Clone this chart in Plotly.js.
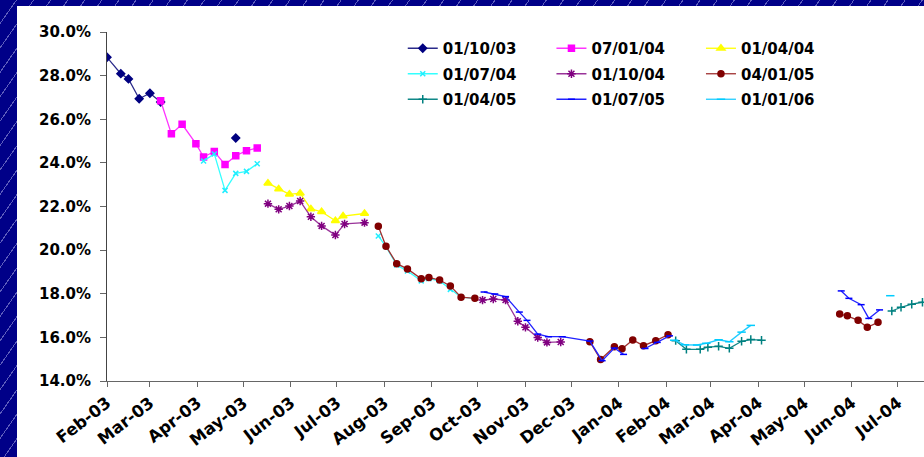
<!DOCTYPE html>
<html>
<head>
<meta charset="utf-8">
<script src="https://cdn.plot.ly/plotly-3.0.1.min.js"></script>
<style>
  html, body { margin: 0; padding: 0; width: 924px; height: 457px; overflow: hidden; }
  body {
    background-color: #000088;
    background-image: repeating-linear-gradient(125deg,
      rgba(0,0,0,0) 0px, rgba(0,0,0,0) 13px,
      rgba(170,170,230,0.55) 13px, rgba(170,170,230,0.55) 14px);
  }
  #stage { position: relative; width: 924px; height: 457px; }
  #panel { position: absolute; left: 17px; top: 6px; width: 907px; height: 451px; background: #ffffff; }
  #chart { position: absolute; left: 0; top: 0; width: 924px; height: 457px; }
</style>
</head>
<body>
<div id="stage">
  <div id="panel"></div>
  <div id="chart"></div>
</div>
<script>
// Month ticks along the date axis
const tickDates = ['2003-02-01','2003-03-01','2003-04-01','2003-05-01','2003-06-01','2003-07-01',
  '2003-08-01','2003-09-01','2003-10-01','2003-11-01','2003-12-01','2004-01-01',
  '2004-02-01','2004-03-01','2004-04-01','2004-05-01','2004-06-01','2004-07-01'];
const tickLabels = ['Feb-03','Mar-03','Apr-03','May-03','Jun-03','Jul-03','Aug-03','Sep-03',
  'Oct-03','Nov-03','Dec-03','Jan-04','Feb-04','Mar-04','Apr-04','May-04','Jun-04','Jul-04'];
const yTicks = [14, 16, 18, 20, 22, 24, 26, 28, 30];
const yTickLabels = ['14.0%','16.0%','18.0%','20.0%','22.0%','24.0%','26.0%','28.0%','30.0%'];

// Series names (legend labels)
const seriesNames = ['01/10/03','07/01/04','01/04/04','01/07/04','01/10/04','04/01/05','01/04/05','01/07/05','01/01/06'];

// Values in percent; null breaks a line between separate runs
const s1Dates = ['2003-02-01','2003-02-10','2003-02-15','2003-02-22','2003-03-01','2003-03-08','2003-04-01','2003-04-26'];
const s1Vals  = [28.84, 28.09, 27.85, 26.94, 27.19, 26.79, null, 25.14];

const s2Dates = ['2003-03-08','2003-03-15','2003-03-22','2003-03-31','2003-04-05','2003-04-12','2003-04-19','2003-04-26','2003-05-03','2003-05-10'];
const s2Vals  = [26.85, 25.33, 25.77, 24.88, 24.27, 24.52, 23.92, 24.33, 24.56, 24.68];

const s3Dates = ['2003-05-17','2003-05-24','2003-05-31','2003-06-07','2003-06-14','2003-06-21','2003-06-30','2003-07-05','2003-07-19'];
const s3Vals  = [23.07, 22.80, 22.56, 22.61, 21.89, 21.76, 21.35, 21.56, 21.68];

const s4Dates = ['2003-04-05','2003-04-12','2003-04-19','2003-04-26','2003-05-03','2003-05-10','2003-06-15',
  '2003-07-28','2003-08-02','2003-08-09','2003-08-16','2003-08-25','2003-08-30','2003-09-06','2003-09-13','2003-09-20','2003-09-29'];
const s4Vals  = [24.09, 24.41, 22.74, 23.52, 23.61, 23.96, null,
  20.65, 20.16, 19.32, 19.04, 18.59, 18.69, 18.59, 18.20, 17.84, 17.79];

const s5Dates = ['2003-05-17','2003-05-24','2003-05-31','2003-06-07','2003-06-14','2003-06-21','2003-06-30','2003-07-06','2003-07-19','2003-08-30',
  '2003-10-04','2003-10-11','2003-10-19','2003-10-27','2003-11-01','2003-11-09','2003-11-15','2003-11-24'];
const s5Vals  = [22.13, 21.87, 22.02, 22.25, 21.53, 21.11, 20.69, 21.20, 21.26, null,
  17.71, 17.76, 17.71, 16.74, 16.46, 15.99, 15.77, 15.79];

const s6Dates = ['2003-07-28','2003-08-02','2003-08-09','2003-08-16','2003-08-25','2003-08-30','2003-09-06','2003-09-13','2003-09-20','2003-09-29','2003-11-01',
  '2003-12-13','2003-12-20','2003-12-29','2004-01-03','2004-01-10','2004-01-17','2004-01-25','2004-02-02','2004-04-01',
  '2004-05-24','2004-05-29','2004-06-05','2004-06-11','2004-06-18'];
const s6Vals  = [21.09, 20.18, 19.38, 19.14, 18.69, 18.75, 18.63, 18.36, 17.84, 17.79, null,
  15.80, 14.99, 15.57, 15.48, 15.88, 15.62, 15.85, 16.12, null,
  17.07, 16.99, 16.78, 16.46, 16.69];

const s7Dates = ['2004-02-07','2004-02-14','2004-02-23','2004-02-28','2004-03-06','2004-03-13','2004-03-21','2004-03-27','2004-04-03','2004-05-15',
  '2004-06-27','2004-07-03','2004-07-10','2004-07-17'];
const s7Vals  = [15.85, 15.45, 15.45, 15.55, 15.59, 15.50, 15.82, 15.90, 15.87, null,
  17.21, 17.38, 17.52, 17.61];

const s8Dates = ['2003-10-05','2003-10-12','2003-10-19','2003-10-28','2003-11-02','2003-11-09','2003-11-16','2003-11-25','2003-12-13','2003-12-21','2003-12-29','2004-01-04','2004-01-10',
  '2004-01-18','2004-01-26','2004-02-03','2004-04-01',
  '2004-05-25','2004-05-30','2004-06-07','2004-06-12','2004-06-19'];
const s8Vals  = [18.08, 17.99, 17.87, 17.16, 16.78, 16.15, 16.03, 16.03, 15.83, 14.93, 15.51, 15.22, null,
  15.49, 15.77, 16.07, null,
  18.13, 17.79, 17.50, 16.87, 17.26];

const s9Dates = ['2004-02-06','2004-02-13','2004-02-21','2004-02-27','2004-03-06','2004-03-13','2004-03-21','2004-03-27','2004-05-01','2004-06-26'];
const s9Vals  = [15.87, 15.66, 15.65, 15.73, 15.89, 15.80, 16.24, 16.55, null, 17.91];

const allDates = [s1Dates, s2Dates, s3Dates, s4Dates, s5Dates, s6Dates, s7Dates, s8Dates, s9Dates];
const allVals  = [s1Vals, s2Vals, s3Vals, s4Vals, s5Vals, s6Vals, s7Vals, s8Vals, s9Vals];

// Styling per series: line colour, marker colour, marker symbol, marker size
const styles = [
  { line: '#2a2a8a', marker: '#000080', symbol: 'diamond', size: 6 },
  { line: '#ff33ff', marker: '#ff00ff', symbol: 'square', size: 6 },
  { line: '#ffff00', marker: '#ffff00', symbol: 'triangle-up', size: 7 },
  { line: '#33ffff', marker: '#22eeff', symbol: 'x-thin-open', size: 5 },
  { line: '#993399', marker: '#800080', symbol: 'asterisk-open', size: 7 },
  { line: '#a03030', marker: '#800000', symbol: 'circle', size: 6 },
  { line: '#108888', marker: '#008080', symbol: 'cross-thin-open', size: 6 },
  { line: '#2222ff', marker: '#0000ff', symbol: 'line-ew-open', size: 5 },
  { line: '#22ccff', marker: '#00ccff', symbol: 'line-ew-open', size: 6 }
];
const legendSlot = ['legend','legend2','legend3','legend','legend2','legend3','legend','legend2','legend3'];

const traces = allVals.map((vals, i) => ({
  type: 'scatter',
  mode: 'lines+markers',
  name: seriesNames[i],
  x: allDates[i],
  y: vals,
  connectgaps: false,
  legend: legendSlot[i],
  legendgroup: 'g' + i,
  line: { color: styles[i].line, width: 1.3 },
  marker: { color: styles[i].marker, symbol: styles[i].symbol, size: styles[i].size,
            line: { color: styles[i].marker, width: 1.5 } }
}));

const labelFont = { family: 'DejaVu Sans', size: 15, weight: 'bold', color: '#000000' };
const legendBase = {
  y: 1.0, yanchor: 'top', xanchor: 'left',
  bgcolor: 'rgba(0,0,0,0)', borderwidth: 0,
  font: labelFont, traceorder: 'grouped', tracegroupgap: 3, itemwidth: 30
};

const layout = {
  width: 924, height: 457,
  margin: { l: 107, r: 0, t: 32, b: 76, pad: 0 },
  paper_bgcolor: 'rgba(0,0,0,0)',
  plot_bgcolor: 'rgba(0,0,0,0)',
  showlegend: true,
  legend:  Object.assign({ x: 0.362 }, legendBase),
  legend2: Object.assign({ x: 0.544 }, legendBase),
  legend3: Object.assign({ x: 0.727 }, legendBase),
  xaxis: {
    type: 'date',
    range: ['2003-02-01', '2004-07-18'],
    tickmode: 'array', tickvals: tickDates, ticktext: tickLabels,
    tickangle: -38,
    ticks: 'outside', ticklen: 5, tickcolor: '#666666', tickwidth: 1,
    showline: true, linecolor: '#666666', linewidth: 1,
    showgrid: false, zeroline: false,
    tickfont: { family: 'DejaVu Sans', size: 16.5, weight: 'bold', color: '#000000' },
    automargin: false
  },
  yaxis: {
    range: [14, 30],
    tickmode: 'array', tickvals: yTicks, ticktext: yTickLabels,
    ticks: 'outside', ticklen: 6, tickcolor: '#666666', tickwidth: 1,
    showline: true, linecolor: '#444444', linewidth: 1,
    showgrid: false, zeroline: false,
    tickfont: labelFont,
    ticklabelstandoff: 6,
    automargin: false
  }
};

Plotly.newPlot('chart', traces, layout, { displayModeBar: false, staticPlot: true });
</script>
</body>
</html>
